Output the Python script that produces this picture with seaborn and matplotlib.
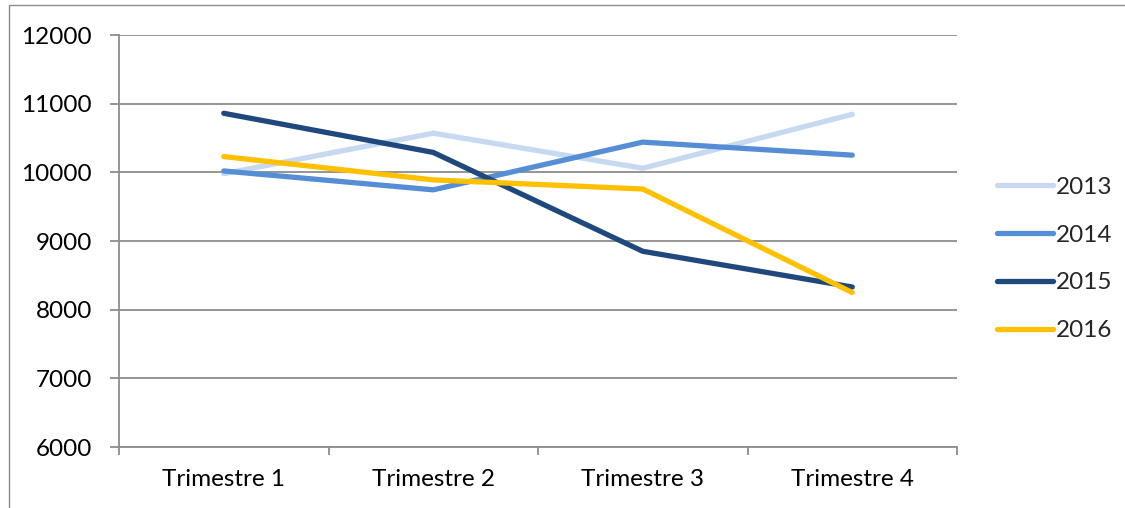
import matplotlib
matplotlib.use("Agg")
import matplotlib.pyplot as plt
import seaborn as sns
import pandas as pd
from matplotlib.patches import Rectangle
from matplotlib.ticker import FixedLocator

categories = ["Trimestre 1", "Trimestre 2", "Trimestre 3", "Trimestre 4"]
years = ["2013", "2014", "2015", "2016"]
v2013 = [9980, 10570, 10060, 10845]
v2014 = [10020, 9745, 10440, 10250]
v2015 = [10860, 10290, 8850, 8330]
v2016 = [10230, 9890, 9757, 8250]
colors = ["#C6D9F1", "#558ED5", "#1F497D", "#FFC000"]
yticks = [6000, 7000, 8000, 9000, 10000, 11000, 12000]

series = {"2013": v2013, "2014": v2014, "2015": v2015, "2016": v2016}
rows = []
for y in years:
    for i, c in enumerate(categories):
        rows.append({"pos": i, "cat": c, "year": y, "value": series[y][i]})
df = pd.DataFrame(rows)

sns.set_style("white")
plt.rcParams["font.family"] = ["Lato", "DejaVu Sans"]

W, H = 1125, 508
fig = plt.figure(figsize=(W / 100, H / 100), dpi=100)
ax = fig.add_axes([119 / W, 1 - 447 / H, (957 - 119) / W, (447 - 35) / H])

sns.lineplot(data=df, x="pos", y="value", hue="year", hue_order=years,
             palette=colors, linewidth=3.8, ax=ax, sort=False,
             solid_capstyle="round", solid_joinstyle="round")

ax.set_xlim(-0.5, 3.5)
ax.set_ylim(6000, 12000)
ax.set_yticks(yticks)
ax.set_yticklabels([str(t) for t in yticks])
ax.set_xticks(range(len(categories)))
ax.set_xticklabels(categories)
ax.xaxis.set_minor_locator(FixedLocator([-0.5, 0.5, 1.5, 2.5, 3.5]))
ax.set_xlabel("")
ax.set_ylabel("")

grid_c = "#8C8C8C"
ax.grid(axis="y", color=grid_c, linewidth=1.3)
ax.set_axisbelow(True)
for s in ["top", "right"]:
    ax.spines[s].set_visible(False)
for s in ["left", "bottom"]:
    ax.spines[s].set_color(grid_c)
    ax.spines[s].set_linewidth(1.3)

fs = 17.5
ax.tick_params(axis="y", which="major", direction="out", length=6.5, width=1.3,
               color=grid_c, pad=13, labelsize=fs, labelcolor="black", left=True)
ax.tick_params(axis="x", which="major", length=0, pad=16, labelsize=fs,
               labelcolor="black")
ax.tick_params(axis="x", which="minor", direction="out", length=6, width=1.3,
               color=grid_c, bottom=True)

handles, labels = ax.get_legend_handles_labels()
ax.legend(handles=handles, labels=labels, loc="center left",
          bbox_to_anchor=(997 / W, 1 - 259 / H), bbox_transform=fig.transFigure,
          frameon=False, fontsize=fs, handlelength=2.3, handletextpad=0.12,
          labelspacing=1.1, borderaxespad=0, borderpad=0)

fig.patches.append(Rectangle((9 / W, -0.1), 1.2, 1 - 5 / H + 0.1,
                             transform=fig.transFigure, fill=False,
                             edgecolor="#8C8C8C", linewidth=1.0))

fig.savefig("out.png", dpi=100, facecolor="white")
